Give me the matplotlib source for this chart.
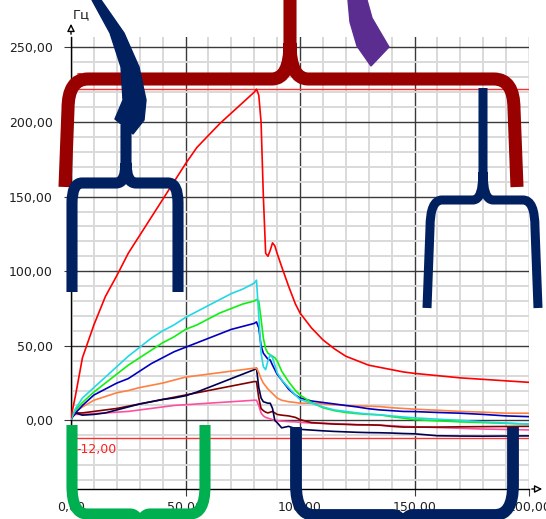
import matplotlib
matplotlib.use("Agg")
import matplotlib.pyplot as plt
from matplotlib.path import Path
from matplotlib.patches import PathPatch, Polygon

# ---- data ----
t = [0, 2, 5, 10, 15, 20, 25, 30, 35, 40, 45, 50, 55, 60, 65, 70, 75, 80, 81, 82,
     83, 84, 85, 86, 87, 88, 89, 90, 92, 95, 98, 100, 105, 110, 115, 120, 125, 130,
     135, 140, 145, 150, 160, 170, 180, 190, 200]

red = [2, 17, 42, 64, 83, 97, 112, 124, 136, 148, 160, 172, 183, 191, 199, 206, 213, 220, 222, 218,
       200, 150, 112, 110, 114, 119, 117, 112, 103, 90, 78, 72, 62, 54, 48, 43, 40, 37,
       35.5, 34, 32.5, 31.5, 30, 28.5, 27.5, 26.5, 25.5]
cyan = [1, 8, 15, 22, 29, 36, 43, 49, 55, 60, 64, 69, 73, 77, 81, 85, 88, 92, 94, 70,
        45, 36, 34, 40, 44, 42, 37, 32, 27, 22, 17, 14, 11.5, 9, 7, 6, 5, 4.2,
        3.7, 3, 2.3, 1.7, 0.8, 0, -1, -1.8, -2.5]
green = [1, 7, 12, 19, 25, 31, 37, 42, 47, 52, 56, 61, 64, 68, 72, 75, 78, 80, 81, 80,
         68, 55, 48, 45, 44, 43, 42, 40, 33, 26, 20, 17, 12, 8.5, 6.5, 5.3, 4.5, 4,
         3.7, 2.5, 1.5, 0.5, -0.3, -1, -1.5, -2, -2.5]
blue = [1, 5, 10, 17, 21, 25, 28, 33, 38, 42, 46, 49, 52, 55, 58, 61, 63, 65, 66, 62,
        50, 45, 43, 41, 40.5, 37, 34, 31, 27, 21, 17, 15, 13, 12, 11, 10, 9, 7.8,
        7, 6.5, 6, 5.9, 5.3, 4.8, 4, 3, 2.5]
orange = [1, 6, 9, 13.5, 16, 18.5, 20, 22, 23.5, 25, 27, 29, 30, 31, 32, 33, 34, 35, 35, 32,
          28, 25, 23, 21, 19.5, 18, 16.5, 15, 13.5, 12.5, 12, 11.5, 11.5, 11, 10.5, 10, 9.7, 9.5,
          9.2, 8.5, 8, 7.5, 6.8, 6, 5.5, 4.8, 4.8]
navy = [1, 5, 3.5, 4, 5, 7, 9, 11, 12.5, 14, 15, 16.5, 19, 22, 25, 28, 31, 34, 35, 22,
        15, 12.5, 12, 11.5, 11.5, 8, 0, -1.5, -5, -4, -5.5, -6, -6.5, -7, -7.4, -7.7, -8, -8.2,
        -8.3, -8.5, -8.8, -9, -10.3, -10.5, -10.6, -10.5, -10.4]
maroon = [2, 5, 5, 6, 7, 8, 9.5, 11, 12.5, 14, 15.5, 17, 18.5, 20, 21.5, 23, 24.5, 26, 26, 15,
          8, 6.5, 5.5, 5, 5.5, 6, 5, 4, 3.5, 3, 2, 0.5, -1.5, -2, -2.5, -2.7, -3, -3,
          -3.2, -4, -4.5, -4.5, -4.5, -4.3, -4.2, -4.1, -4]
pink = [2, 4, 4, 4.5, 5, 5.5, 6, 7, 8, 9, 10, 10.5, 11, 11.5, 12, 12.5, 13, 13.5, 13.5, 10,
        5, 3, 2, 1.5, 1, 0.5, 0, -0.2, -0.5, -0.8, -1, -1.3, -1.8, -2, -2.2, -2.5, -2.8, -3,
        -3.3, -3.6, -4, -4.3, -4.8, -5.3, -5.8, -6.1, -6.4]

series = [
    (pink, '#ff4fa0'),
    (maroon, '#800000'),
    (navy, '#000050'),
    (orange, '#ff8040'),
    (blue, '#0000c0'),
    (green, '#10f010'),
    (cyan, '#22d8e6'),
    (red, '#ff0000'),
]

x_major = [0, 50, 100, 150, 200]
y_major = [0, 50, 100, 150, 200, 250]
limit_hi = 222
limit_lo = -12

W, H = 546, 519


def fx(p):
    # pixel coords (top-left origin) -> figure fraction
    return (p[0] / W, 1 - p[1] / H)


def fmt(v):
    return ('%.2f' % v).replace('.', ',')


def brace(fig, xl, xr, xt, yb, yend, ytip, dxl, dyl, dxt, dyt, color, lw, lean=0):
    s = 1 if yend > yb else -1
    v1 = [(xl - lean, yend), (xl, yb + s * dyl), (xl, yb), (xl + dxl, yb), (xt - dxt, yb),
          (xt, yb), (xt, yb - s * dyt), (xt, ytip)]
    c1 = [Path.MOVETO, Path.LINETO, Path.CURVE3, Path.CURVE3, Path.LINETO,
          Path.CURVE3, Path.CURVE3, Path.LINETO]
    v2 = [(xt, yb - s * dyt), (xt, yb), (xt + dxt, yb), (xr - dxl, yb), (xr, yb),
          (xr, yb + s * dyl), (xr + lean, yend)]
    c2 = [Path.MOVETO, Path.CURVE3, Path.CURVE3, Path.LINETO, Path.CURVE3,
          Path.CURVE3, Path.LINETO]
    path = Path([fx(p) for p in v1 + v2], c1 + c2)
    fig.add_artist(PathPatch(path, transform=fig.transFigure, fill=False, ec=color,
                             lw=lw, capstyle='butt', joinstyle='round', zorder=20))


def main():
    fig = plt.figure(figsize=(W / 100, H / 100), dpi=100)
    ax = fig.add_axes([71 / W, (H - 489) / H, (529 - 71) / W, (489 - 37) / H])

    for vals, col in series:
        ax.plot(t, vals, color=col, lw=1.2, zorder=5)

    ax.axhline(limit_hi, color='#ff3030', lw=1, zorder=4)
    ax.axhline(limit_lo, color='#ff3030', lw=1, zorder=4)
    ax.text(2, limit_hi + 3, fmt(limit_hi), color='#ff2020', fontsize=9, va='bottom')
    ax.text(2.5, limit_lo - 3, fmt(limit_lo), color='#ff2020', fontsize=9, va='top')

    ax.set_xlim(0, 200)
    ax.set_ylim(-46, 257)
    ax.set_xticks(x_major)
    ax.set_yticks(y_major)
    ax.set_xticklabels([fmt(v) for v in x_major])
    ax.set_yticklabels([fmt(v) for v in y_major])
    ax.set_xticks([v for v in range(10, 200, 10) if v % 50], minor=True)
    ax.set_yticks([v for v in range(-40, 260, 10) if v % 50], minor=True)
    ax.grid(True, which='minor', color='#d9d9d9', lw=1.4, zorder=0)
    ax.grid(True, which='major', color='#3a3a3a', lw=1, zorder=1)
    ax.get_xgridlines()[-1].set_color('#8a8a8a')
    ax.set_axisbelow(True)
    ax.tick_params(which='major', length=5, color='#3a3a3a', labelsize=9,
                   labelcolor='#202020')
    ax.tick_params(axis='y', pad=8)
    ax.tick_params(axis='x', pad=4)
    ax.tick_params(which='minor', length=0)
    for side in ('top', 'right'):
        ax.spines[side].set_visible(False)
    for side in ('left', 'bottom'):
        ax.spines[side].set_color('black')
        ax.spines[side].set_linewidth(1)

    # axis arrows
    ax.annotate('', xy=fx((71, 21)), xytext=fx((71, 37)), xycoords='figure fraction',
                arrowprops=dict(arrowstyle='-|>', fc='white', ec='black', lw=1,
                                mutation_scale=11))
    ax.annotate('', xy=fx((545, 489)), xytext=fx((529, 489)), xycoords='figure fraction',
                arrowprops=dict(arrowstyle='-|>', fc='white', ec='black', lw=1,
                                mutation_scale=11))
    fig.text(*fx((73, 15)), 'Гц', fontsize=9.5, va='center', ha='left', color='#202020')

    # overlay braces
    brace(fig, 68, 514, 290, 79, 187, -10, 20, 30, 18, 36, '#990000', 9.4, lean=3)
    brace(fig, 72, 178, 126, 183, 292, 125, 10, 20, 10, 20, '#002060', 8)
    crescent = [(92, 0), (110, 33), (121, 67), (123, 100), (115, 119), (133, 134),
                (144, 120), (146, 100), (139, 67), (124, 33), (101, 0)]
    fig.add_artist(Polygon([fx(p) for p in crescent], closed=True, transform=fig.transFigure,
                           fc='#002060', ec='#002060', lw=1, zorder=21))
    purple = [(348, 0), (367, 0), (372, 18), (389, 47), (371, 66), (357, 46), (350, 22)]
    fig.add_artist(Polygon([fx(p) for p in purple], closed=True, transform=fig.transFigure,
                           fc='#5c2d91', ec='#5c2d91', lw=1, zorder=21))
    brace(fig, 430, 535, 483, 200, 308, 88, 12, 28, 10, 28, '#002060', 6.5, lean=3)
    brace(fig, 72, 205, 140, 514, 425, 540, 15, 28, 10, 20, '#00b050', 8)
    brace(fig, 296, 513, 403, 515, 427, 540, 18, 30, 10, 20, '#002060', 8.5)

    fig.savefig("out.png", dpi=100)


if __name__ == "__main__":
    main()
